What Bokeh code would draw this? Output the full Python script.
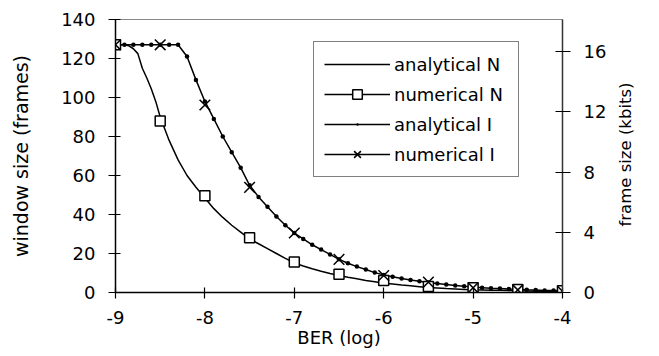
from bokeh.plotting import figure
from bokeh.models import Range1d, LinearAxis, Legend, LegendItem, FixedTicker, Label
from bokeh.embed import file_html
from bokeh.resources import INLINE
from math import pi

# ---- data ----
x_num = [-9.0, -8.5, -8.0, -7.5, -7.0, -6.5, -6.0, -5.5, -5.0, -4.5, -4.0]
numerical_N = [127, 88, 49.6, 28.1, 15.6, 9.3, 6.2, 3.1, 2.4, 1.5, 0.9]          # frames
numerical_I = [16.45, 16.45, 12.45, 6.98, 3.95, 2.20, 1.13, 0.69, 0.31, 0.17, 0.08]  # kbits

x_anN = [-9.0, -8.9, -8.85, -8.8, -8.75, -8.7, -8.65, -8.6, -8.55, -8.5, -8.4, -8.3, -8.2, -8.1,
         -8.0, -7.9, -7.8, -7.7, -7.6, -7.5, -7.4, -7.3, -7.2, -7.1, -7.0, -6.9, -6.8, -6.7,
         -6.6, -6.5, -6.4, -6.3, -6.2, -6.1, -6.0, -5.9, -5.8, -5.7, -5.6, -5.5, -5.4, -5.3,
         -5.2, -5.1, -5.0, -4.9, -4.8, -4.7, -4.6, -4.5, -4.4, -4.3, -4.2, -4.1, -4.0]
analytical_N = [127, 127, 126.5, 125, 122.5, 115, 110, 104.5, 98, 90, 78, 68, 60, 54,
                48.5, 43, 38.5, 34.5, 31, 27.5, 25, 22.5, 20, 17.5, 15.2, 13.6, 12.2, 10.9,
                9.7, 8.7, 7.8, 7.0, 6.2, 5.5, 4.8, 4.3, 3.8, 3.4, 3.0, 2.6, 2.3, 2.0,
                1.8, 1.6, 1.4, 1.3, 1.2, 1.1, 1.0, 0.9, 0.8, 0.7, 0.65, 0.6, 0.55]

x_anI = [-9.0, -8.9, -8.8, -8.7, -8.6, -8.5, -8.4, -8.3, -8.2, -8.1, -8.0, -7.9, -7.8, -7.7,
         -7.6, -7.5, -7.4, -7.3, -7.2, -7.1, -7.0, -6.9, -6.8, -6.7, -6.6, -6.5, -6.4, -6.3,
         -6.2, -6.1, -6.0, -5.9, -5.8, -5.7, -5.6, -5.5, -5.4, -5.3, -5.2, -5.1, -5.0, -4.9,
         -4.8, -4.7, -4.6, -4.5, -4.4, -4.3, -4.2, -4.1, -4.0]
analytical_I = [16.45, 16.45, 16.45, 16.45, 16.45, 16.45, 16.45, 16.45, 15.67, 14.12, 12.69,
                11.53, 10.36, 9.32, 8.29, 7.12, 6.35, 5.70, 5.05, 4.47, 3.95, 3.56, 3.17, 2.85,
                2.53, 2.20, 1.94, 1.72, 1.53, 1.32, 1.17, 1.04, 0.93, 0.83, 0.74, 0.66, 0.60,
                0.53, 0.47, 0.41, 0.36, 0.32, 0.28, 0.26, 0.23, 0.21, 0.18, 0.16, 0.14, 0.13, 0.12]

x_ticks = [-9, -8, -7, -6, -5, -4]
x_tick_labels = ["-9", "-8", "-7", "-6", "-5", "-4"]
left_ticks = [0, 20, 40, 60, 80, 100, 120, 140]
right_ticks = [0, 4, 8, 12, 16]

FONT = "DejaVu Sans"

p = figure(width=659, height=356, x_range=Range1d(-9, -4), y_range=Range1d(0, 140),
           output_backend="svg", toolbar_location=None,
           min_border_left=115, min_border_right=97, min_border_top=19, min_border_bottom=64)
p.extra_y_ranges = {"kb": Range1d(0, 18.13)}
p.grid.visible = False
p.background_fill_color = "white"
p.border_fill_color = "white"
p.outline_line_color = "#888888"
p.outline_line_width = 1

# x axis
xa = p.xaxis[0]
xa.ticker = FixedTicker(ticks=x_ticks)
xa.major_label_overrides = {t: s for t, s in zip(x_ticks, x_tick_labels)}
xa.axis_label = "BER (log)"
xa.major_tick_in = 5
xa.major_tick_out = 6
xa.major_label_standoff = 12
xa.axis_label_standoff = 0

# left axis
ya = p.yaxis[0]
ya.ticker = FixedTicker(ticks=left_ticks)
ya.axis_label = "window size (frames)"
ya.major_tick_in = 5
ya.major_tick_out = 7
ya.major_label_standoff = 13
ya.axis_label_standoff = 26

ra = LinearAxis(y_range_name="kb", ticker=FixedTicker(ticks=right_ticks))
ra.major_tick_in = 7
ra.major_tick_out = 8
ra.major_label_standoff = 13
p.add_layout(ra, "right")

for ax in [xa, ya, ra]:
    ax.minor_tick_line_color = None
    ax.axis_line_color = "black"
    ax.axis_line_width = 1.5
    ax.major_tick_line_color = "black"
    ax.major_tick_line_width = 1.2
    ax.major_label_text_font = FONT
    ax.major_label_text_font_size = "18px"
    ax.major_label_text_color = "black"
    ax.axis_label_text_font = FONT
    ax.axis_label_text_font_size = "18px"
    ax.axis_label_text_font_style = "normal"
    ax.axis_label_text_color = "black"
ya.axis_label_text_font_size = "19px"
ra.axis_line_color = "#333333"

# right-hand axis title, reading bottom-to-top, in its own side panel
rlabel = Label(x=16, y=138, x_units="screen", y_units="screen", text="frame size (kbits)",
               angle=pi / 2, text_align="center", text_baseline="middle",
               text_font=FONT, text_font_size="16.5px", text_color="black")
p.add_layout(rlabel, "right")

# glyphs (numerical series are markers only in the plot area)
r_aI = p.line(x_anI, analytical_I, y_range_name="kb", line_color="black", line_width=1.5)
r_aI_d = p.scatter(x_anI, analytical_I, y_range_name="kb", marker="dot", size=18,
                   fill_color="black", line_color="black")
r_aN = p.line(x_anN, analytical_N, line_color="black", line_width=1.5)
r_nN_m = p.scatter(x_num, numerical_N, marker="square", size=10, fill_color="white",
                   line_color="black", line_width=1.5)
r_nI_m = p.scatter(x_num, numerical_I, y_range_name="kb", marker="x", size=15,
                   line_color="black", line_width=1.5)

# hidden line renderers: only their legend swatch is shown
lg_nN = p.line(x_num, numerical_N, line_color="black", line_width=1.5, visible=False)
lg_nI = p.line(x_num, numerical_I, y_range_name="kb", line_color="black", line_width=1.5,
               visible=False)

legend = Legend(items=[
    LegendItem(label="analytical N", renderers=[r_aN]),
    LegendItem(label="numerical N", renderers=[lg_nN, r_nN_m]),
    LegendItem(label="analytical I", renderers=[r_aI, r_aI_d]),
    LegendItem(label="numerical I", renderers=[lg_nI, r_nI_m]),
], location=(198, 115))
legend.border_line_color = "black"
legend.border_line_width = 1
legend.background_fill_color = "white"
legend.background_fill_alpha = 1
legend.inactive_fill_alpha = 0
legend.label_text_font = FONT
legend.label_text_font_size = "18px"
legend.label_text_color = "black"
legend.glyph_width = 66
legend.glyph_height = 24
legend.label_height = 24
legend.label_width = 114
legend.label_standoff = 4
legend.spacing = 6
legend.padding = 10
legend.margin = 0
p.add_layout(legend, "center")

open("out.html", "w").write(file_html(p, INLINE))
